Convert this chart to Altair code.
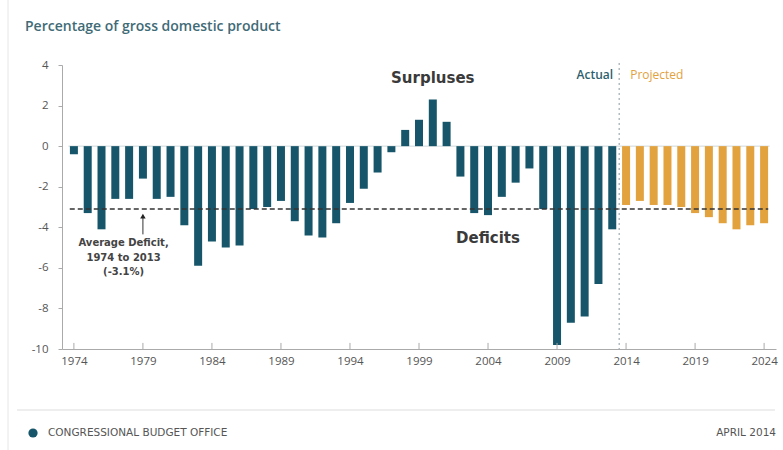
import altair as alt
import pandas as pd

# ---- data ----
years = list(range(1974, 2025))
deficits = [-0.4, -3.3, -4.1, -2.6, -2.6, -1.6, -2.6, -2.5, -3.9, -5.9,
            -4.7, -5.0, -4.9, -3.1, -3.0, -2.7, -3.7, -4.4, -4.5, -3.8,
            -2.8, -2.1, -1.3, -0.3, 0.8, 1.3, 2.3, 1.2, -1.5, -3.3,
            -3.4, -2.5, -1.8, -1.1, -3.1, -9.8, -8.7, -8.4, -6.8, -4.1,
            -2.9, -2.7, -2.9, -2.9, -3.0, -3.3, -3.5, -3.8, -4.1, -3.9, -3.8]
status = ["Actual"] * 40 + ["Projected"] * 11
tick_years = [1974, 1979, 1984, 1989, 1994, 1999, 2004, 2009, 2014, 2019, 2024]
y_ticks = [4, 2, 0, -2, -4, -6, -8, -10]
average_deficit = -3.1

TEAL = "#17566a"
ORANGE = "#e2a23e"
FONT = "DejaVu Sans"
FONT2 = "Open Sans"

df = pd.DataFrame({"year": years, "value": deficits, "status": status})
one = pd.DataFrame({"k": [0]})

xscale = alt.Scale(domain=[1973.5, 2024.5], nice=False, zero=False)
yscale = alt.Scale(domain=[-10, 4], nice=False)

bars = alt.Chart(df).mark_bar(size=8).encode(
    x=alt.X("year:Q", scale=xscale,
            axis=alt.Axis(values=tick_years, format="d", title=None, ticks=False,
                          grid=False, labelFont=FONT2, labelFontSize=11.5,
                          labelColor="#555", labelPadding=6,
                          domainColor="#aaa")),
    y=alt.Y("value:Q", scale=yscale,
            axis=alt.Axis(values=y_ticks, title=None, grid=False, tickSize=4,
                          tickColor="#aaa", domainColor="#aaa",
                          labelExpr="toString(datum.value)",
                          labelFont=FONT2, labelFontSize=11.5, labelColor="#555",
                          labelPadding=10)),
    color=alt.Color("status:N", scale=alt.Scale(domain=["Actual", "Projected"],
                                                range=[TEAL, ORANGE]), legend=None),
)

xticks = alt.Chart(pd.DataFrame({"year": tick_years})).mark_rule(
    color="#aaa").encode(x="year:Q", y=alt.datum(-10), y2=alt.datum(-9.7))

zero = alt.Chart(one).mark_rule(color="#cfd8da", strokeWidth=1).encode(
    x=alt.datum(1973.6), x2=alt.datum(2024.4), y=alt.datum(0))

avg = alt.Chart(one).mark_rule(color="#333", strokeWidth=1.5,
                               strokeDash=[5, 3]).encode(
    x=alt.datum(1973.7), x2=alt.datum(2024.3), y=alt.datum(average_deficit))

divider = alt.Chart(one).mark_rule(color="#8a9aa0", strokeWidth=1,
                                   strokeDash=[2, 3]).encode(
    x=alt.datum(2013.5), y=alt.datum(4.1), y2=alt.datum(-10))

arrow = alt.Chart(one).mark_rule(color="#333", strokeWidth=1).encode(
    x=alt.datum(1979), y=alt.datum(-4.35), y2=alt.datum(-3.5))
arrowhead = alt.Chart(one).mark_point(shape="triangle-up", filled=True,
                                      color="#222", size=30, opacity=1).encode(
    x=alt.datum(1979), y=alt.datum(-3.45))

def txt(label, x, y, font=FONT, **kw):
    return alt.Chart(one).mark_text(text=label, font=font, **kw).encode(
        x=alt.datum(x), y=alt.datum(y))

ann = [
    txt("Surpluses", 2000, 3.35, fontSize=15, fontWeight="bold", color="#3a3a3a"),
    txt("Deficits", 2004, -4.55, fontSize=15, fontWeight="bold", color="#3a3a3a"),
    txt("Actual", 2013.5, 3.5, font=FONT2, fontSize=12, fontWeight=600,
        color="#2d5f6e", align="right", dx=-6),
    txt("Projected", 2013.5, 3.5, font=FONT2, fontSize=12, color=ORANGE,
        align="left", dx=11),
    txt("Average Deficit,", 1977.6, -4.75, fontSize=10, fontWeight="bold",
        color="#444"),
    txt("1974 to 2013", 1977.6, -5.5, fontSize=10, fontWeight="bold", color="#444"),
    txt("(-3.1%)", 1977.6, -6.2, fontSize=10, fontWeight="bold", color="#444"),
]

def ptxt(label, x, y, font=FONT2, **kw):
    return alt.Chart(one).mark_text(text=label, font=font, baseline="middle",
                                    **kw).encode(x=alt.value(x), y=alt.value(y))

title = ptxt("Percentage of gross domestic product", -37, -38, fontSize=14,
             fontWeight=600, color="#3f6b77", align="left")
footer_line = alt.Chart(one).mark_rule(color="#dddddd").encode(
    x=alt.value(-45), x2=alt.value(713), y=alt.value(345))
left_border = alt.Chart(one).mark_rule(color="#e6e6e6").encode(
    x=alt.value(-54), y=alt.value(-65), y2=alt.value(385))
logo = alt.Chart(one).mark_point(shape="circle", filled=True, color=TEAL,
                                 size=85, opacity=1).encode(
    x=alt.value(-29), y=alt.value(368))
cbo = ptxt("CONGRESSIONAL BUDGET OFFICE", -14, 368, font=FONT, fontSize=10.5,
           color="#555", align="left")
date = ptxt("APRIL 2014", 714, 368, font=FONT, fontSize=10.5, color="#555",
            align="right")

chart = alt.layer(
    zero, bars, xticks, avg, divider, arrow, arrowhead, *ann,
    title, footer_line, left_border, logo, cbo, date
).properties(
    width=714, height=284,
    autosize=alt.AutoSizeParams(type="none"),
    padding={"left": 62, "top": 65, "right": 7, "bottom": 101},
    background="white",
).configure_view(stroke=None)

chart.save("out.html", embed_options={"renderer": "svg", "actions": False})
